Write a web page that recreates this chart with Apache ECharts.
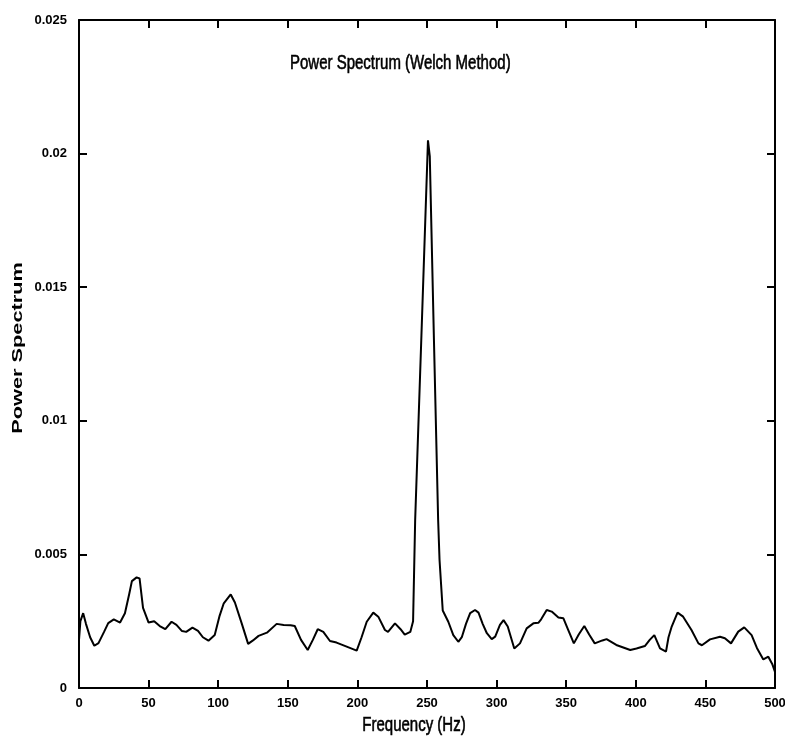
<!DOCTYPE html>
<html>
<head>
<meta charset="utf-8">
<script src="https://cdn.jsdelivr.net/npm/echarts@6/dist/echarts.min.js"></script>
<style>
  html, body { margin: 0; padding: 0; background: #fff; overflow: hidden; }
  #chart { width: 785px; height: 742px; }
</style>
</head>
<body>
<div id="chart"></div>
<script>
// Welch power spectrum estimate: frequency (Hz) and power
const freqHz = [
  0, 1, 3, 5, 8, 11, 14, 18, 21, 25, 29.5, 33, 36, 38, 41.4, 43.5, 46, 50, 54, 58,
  62, 66.5, 70, 74, 77, 81.5, 85.5, 89, 93, 97.5, 101, 104, 109, 112, 117, 121.5, 125, 129, 135, 142,
  147, 152, 155, 159.5, 164.3, 168, 171.5, 175.5, 180.3, 185, 192.3, 199.5, 203, 206.7, 211.4, 215, 219.8, 222, 227, 231,
  234, 238, 240, 241.5, 246, 250.7, 252, 255, 258, 259, 261.3, 265.3, 268.9, 272.5, 275, 278, 281, 284.5, 287, 290,
  293, 296.5, 299, 302.4, 305, 308, 312.7, 316.8, 321.6, 326.4, 330, 332, 336, 339.6, 344.4, 348, 351.5, 355.5, 359, 363,
  366.5, 370.5, 376, 379, 386, 396, 400.5, 406.5, 410, 413.3, 417.4, 421.7, 423.5, 425.8, 430, 434, 440, 445, 447.5, 453.3,
  460.5, 464, 468.4, 473.6, 477.9, 483.2, 487, 491.6, 495.2, 498, 500
];
const powerSpectrum = [
  0.0018, 0.0025, 0.0028, 0.0024, 0.0019, 0.00158, 0.00168, 0.0021, 0.00243, 0.00257, 0.00245, 0.0028, 0.0035, 0.0040, 0.00414, 0.0041, 0.0030, 0.00245, 0.0025, 0.00232,
  0.0022, 0.00248, 0.00236, 0.00213, 0.0021, 0.00226, 0.00214, 0.0019, 0.00177, 0.00198, 0.0027, 0.00317, 0.0035, 0.0032, 0.0024, 0.00165, 0.00178, 0.00195, 0.00207, 0.0024,
  0.00236, 0.00235, 0.00232, 0.0018, 0.00142, 0.0018, 0.0022, 0.0021, 0.00176, 0.0017, 0.00155, 0.0014, 0.0019, 0.00248, 0.00282, 0.00267, 0.00217, 0.0021, 0.00242, 0.0022,
  0.0020, 0.0021, 0.0025, 0.0063, 0.0132, 0.0205, 0.0199, 0.0130, 0.0063, 0.0048, 0.0029, 0.00248, 0.00198, 0.00173, 0.0019, 0.0024, 0.0028, 0.00292, 0.00282, 0.0024,
  0.00205, 0.00183, 0.00192, 0.00236, 0.00254, 0.0023, 0.00148, 0.00167, 0.00223, 0.00242, 0.00244, 0.00257, 0.00292, 0.00286, 0.00264, 0.00261, 0.00217, 0.00167, 0.0020, 0.00232,
  0.0020, 0.00167, 0.00178, 0.00183, 0.00161, 0.00142, 0.00148, 0.00157, 0.0018, 0.00198, 0.00148, 0.00136, 0.0019, 0.0023, 0.00282, 0.00267, 0.00217, 0.00167, 0.0016, 0.00182,
  0.00192, 0.00186, 0.00167, 0.00211, 0.00227, 0.00198, 0.0015, 0.00107, 0.00117, 0.0009, 0.0006
];
const yTickLabels = ['0', '0.005', '0.01', '0.015', '0.02', '0.025'];
const xTickLabels = ['0', '50', '100', '150', '200', '250', '300', '350', '400', '450', '500'];

const sans = '"Liberation Sans", Arial, sans-serif';
const axisLineStyle = { color: '#000', width: 2 };
const tickStyle = { show: true, inside: true, length: 8, lineStyle: { color: '#000', width: 2 } };
const labelStyle = { color: '#000', fontFamily: sans, fontSize: 13, fontWeight: 'bold' };

// condensed caption text: a regular face squeezed horizontally
function caption(text, x, y, align, size, squeeze) {
  return {
    type: 'text', x: x, y: y, scaleX: squeeze, silent: true,
    style: {
      text: text, fill: '#000', stroke: '#000', lineWidth: 0.6,
      font: size + 'px ' + sans, align: align, verticalAlign: 'top'
    }
  };
}

const chart = echarts.init(document.getElementById('chart'), null, { renderer: 'canvas' });

chart.setOption({
  animation: false,
  backgroundColor: '#fff',
  grid: { left: 79, right: 10, top: 20, bottom: 54, containLabel: false, outerBoundsMode: 'none' },
  xAxis: [
    {
      type: 'value', min: 0, max: 500, interval: 50, position: 'bottom',
      axisLine: { show: true, onZero: false, lineStyle: axisLineStyle },
      axisTick: tickStyle,
      splitLine: { show: false },
      axisLabel: Object.assign({ margin: 9, formatter: v => xTickLabels[Math.round(v / 50)] }, labelStyle)
    },
    {
      type: 'value', min: 0, max: 500, interval: 50, position: 'top',
      axisLine: { show: true, onZero: false, lineStyle: axisLineStyle },
      axisTick: tickStyle,
      splitLine: { show: false },
      axisLabel: { show: false }
    }
  ],
  yAxis: [
    {
      type: 'value', min: 0, max: 0.025, interval: 0.005, position: 'left',
      axisLine: { show: true, onZero: false, lineStyle: axisLineStyle },
      axisTick: tickStyle,
      splitLine: { show: false },
      axisLabel: Object.assign({ margin: 12, formatter: v => yTickLabels[Math.round(v / 0.005)] }, labelStyle)
    },
    {
      type: 'value', min: 0, max: 0.025, interval: 0.005, position: 'right',
      axisLine: { show: true, onZero: false, lineStyle: axisLineStyle },
      axisTick: tickStyle,
      splitLine: { show: false },
      axisLabel: { show: false }
    }
  ],
  graphic: [
    caption('Power Spectrum (Welch Method)', 290, 53, 'left', 20, 0.75),
    caption('Frequency (Hz)', 414, 715, 'center', 20, 0.75),
    {
      type: 'text',
      x: 18,
      y: 348,
      rotation: Math.PI / 2,
      scaleX: 1.45,
      silent: true,
      style: {
        text: 'Power Spectrum',
        fill: '#000',
        font: 'bold 15px ' + sans,
        align: 'center',
        verticalAlign: 'middle'
      }
    }
  ],
  series: [
    {
      type: 'line',
      xAxisIndex: 0,
      yAxisIndex: 0,
      data: freqHz.map((f, i) => [f, powerSpectrum[i]]),
      showSymbol: false,
      smooth: false,
      lineStyle: { color: '#000', width: 2 },
      itemStyle: { color: '#000' }
    }
  ]
});
</script>
</body>
</html>
